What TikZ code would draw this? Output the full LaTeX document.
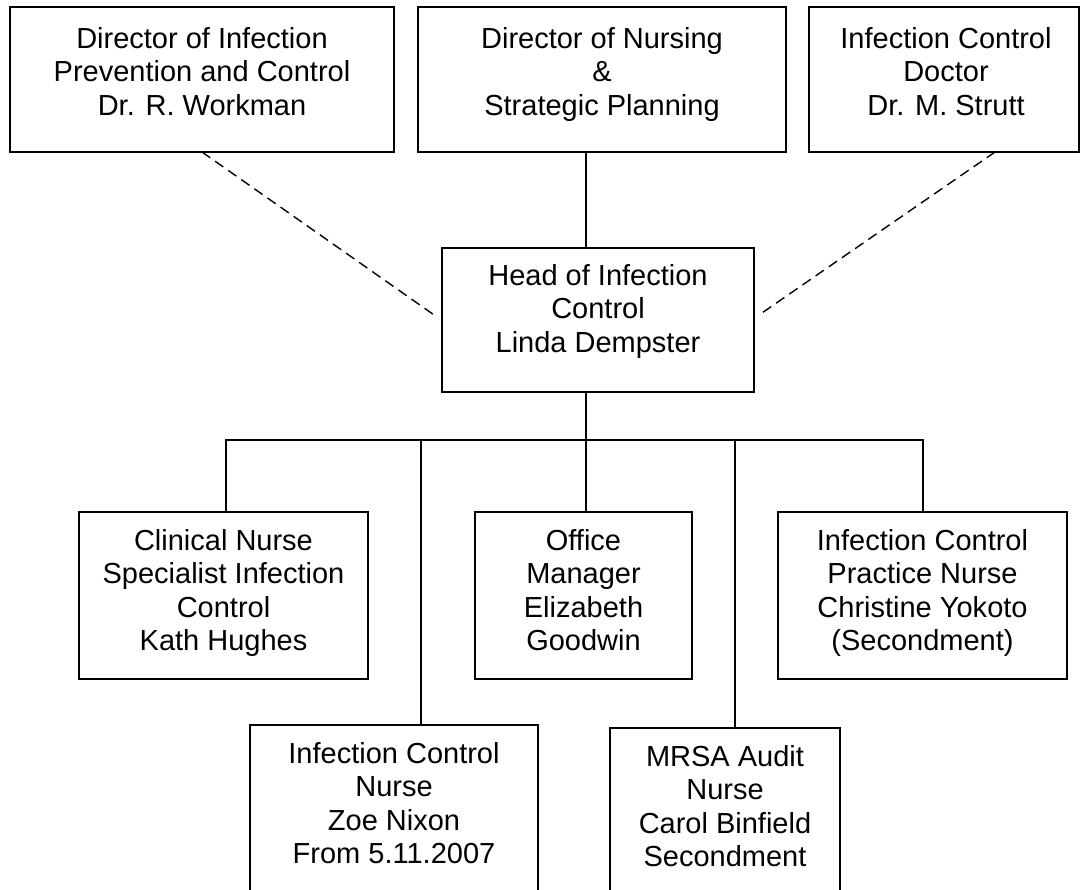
\documentclass[tikz,border=0pt]{standalone}
\usepackage{fontspec}
\setmainfont{Liberation Sans}
\begin{document}
\begin{tikzpicture}[x=1bp,y=-1bp,
  box/.style={draw, line width=1.6bp, inner sep=0pt, outer sep=0pt, anchor=north west},
  lbl/.style={inner sep=0pt, align=center, anchor=north, font=\fontsize{29bp}{33.4bp}\selectfont},
  conn/.style={line width=1.6bp},
  dconn/.style={line width=1.4bp, dash pattern=on 10bp off 6bp}]
\useasboundingbox (0,0) rectangle (1089,890);
\clip (0,0) rectangle (1089,890);
% top row
\node[box, minimum width=384bp, minimum height=145bp] (dipc) at (10,7) {};
\node[lbl] (dipcT) at (202,27) {Director of Infection\\Prevention and Control\\Dr. R. Workman};
\node[box, minimum width=368bp, minimum height=145bp] (dnsp) at (418,7) {};
\node[lbl] (dnspT) at (602,27) {Director of Nursing\\\&\\Strategic Planning};
\node[box, minimum width=270bp, minimum height=145bp] (icd) at (809,7) {};
\node[lbl] (icdT) at (946,27) {Infection Control\\Doctor\\Dr. M. Strutt};
% head
\node[box, minimum width=312bp, minimum height=144bp] (head) at (442,248) {};
\node[lbl] (headT) at (598,264) {Head of Infection\\Control\\Linda Dempster};
% middle row
\node[box, minimum width=289bp, minimum height=167bp] (cns) at (79,512) {};
\node[lbl] (cnsT) at (223.5,529) {Clinical Nurse\\Specialist Infection\\Control\\Kath Hughes};
\node[box, minimum width=217bp, minimum height=167bp] (om) at (475,512) {};
\node[lbl] (omT) at (583.5,529) {Office\\Manager\\Elizabeth\\Goodwin};
\node[box, minimum width=289bp, minimum height=167bp] (icpn) at (778,512) {};
\node[lbl] (icpnT) at (922.5,529) {Infection Control\\Practice Nurse\\Christine Yokoto\\(Secondment)};
% bottom row
\node[box, minimum width=288bp, minimum height=200bp] (icn) at (250,725) {};
\node[lbl] (icnT) at (394,742) {Infection Control\\Nurse\\Zoe Nixon\\From 5.11.2007};
\node[box, minimum width=230bp, minimum height=200bp] (mrsa) at (610,728) {};
\node[lbl] (mrsaT) at (725,745) {MRSA Audit\\Nurse\\Carol Binfield\\Secondment};
% connectors
\coordinate (hx) at (586,440);
\coordinate (bl) at (226,440);
\coordinate (br) at (923,440);
\coordinate (ix) at (421,440);
\coordinate (mx) at (735,440);
\draw[conn] (hx |- dnsp.south) -- (hx |- head.north);
\draw[conn] (hx |- head.south) -- (hx |- om.north);
\draw[conn] (bl |- cns.north) -- (bl) -- (br) -- (br |- icpn.north);
\draw[conn] (ix) -- (ix |- icn.north);
\draw[conn] (mx) -- (mx |- mrsa.north);
\draw[dconn] (dipc.south) -- ([xshift=-5bp,yshift=3bp]head.west);
\draw[dconn] ([xshift=51bp]icd.south) -- ([xshift=5bp,yshift=5bp]head.east);
\end{tikzpicture}
\end{document}
